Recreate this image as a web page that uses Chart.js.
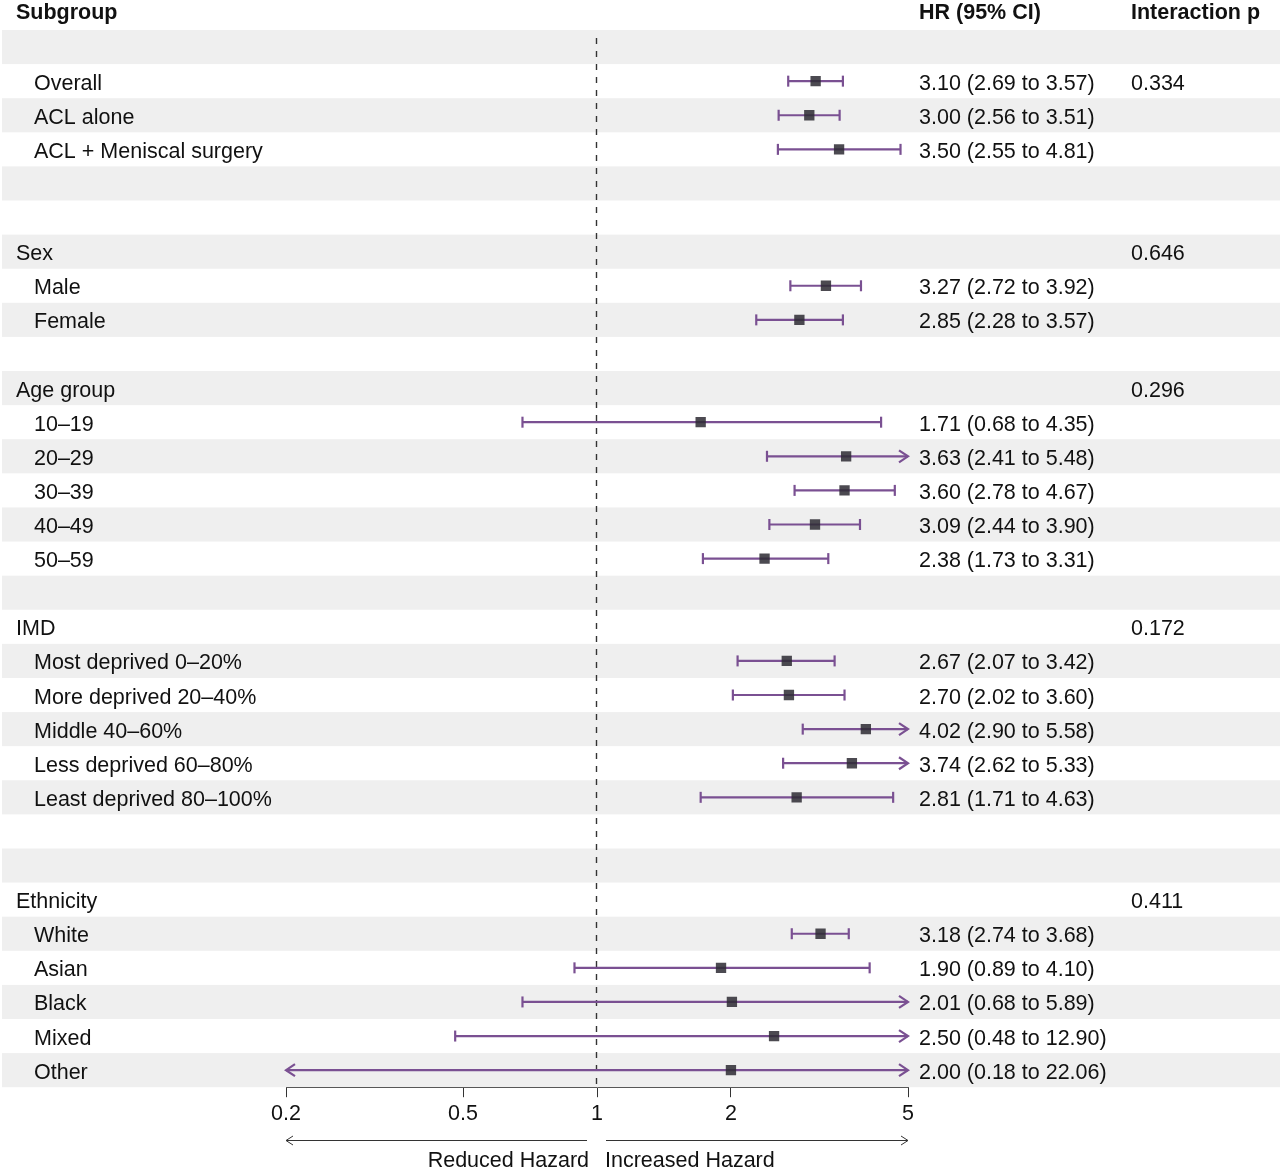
<!DOCTYPE html>
<html>
<head>
<meta charset="utf-8">
<script src="https://cdn.jsdelivr.net/npm/chart.js@4/dist/chart.umd.min.js"></script>
<style>
  html, body { margin: 0; padding: 0; background: #ffffff; }
  #wrap { position: relative; width: 1280px; height: 1169px; }
</style>
</head>
<body>
<div id="wrap"><canvas id="c"></canvas></div>
<script>
// ---------------- DATA ----------------
const subgroupLabels = [
  "", "Overall", "ACL alone", "ACL + Meniscal surgery", "", "",
  "Sex", "Male", "Female", "",
  "Age group", "10–19", "20–29", "30–39", "40–49", "50–59", "",
  "IMD", "Most deprived 0–20%", "More deprived 20–40%", "Middle 40–60%", "Less deprived 60–80%", "Least deprived 80–100%", "", "",
  "Ethnicity", "White", "Asian", "Black", "Mixed", "Other"
];
const hazardRatio = [
  null, 3.10, 3.00, 3.50, null, null,
  null, 3.27, 2.85, null,
  null, 1.71, 3.63, 3.60, 3.09, 2.38, null,
  null, 2.67, 2.70, 4.02, 3.74, 2.81, null, null,
  null, 3.18, 1.90, 2.01, 2.50, 2.00
];
const ciLower = [
  null, 2.69, 2.56, 2.55, null, null,
  null, 2.72, 2.28, null,
  null, 0.68, 2.41, 2.78, 2.44, 1.73, null,
  null, 2.07, 2.02, 2.90, 2.62, 1.71, null, null,
  null, 2.74, 0.89, 0.68, 0.48, 0.18
];
const ciUpper = [
  null, 3.57, 3.51, 4.81, null, null,
  null, 3.92, 3.57, null,
  null, 4.35, 5.48, 4.67, 3.90, 3.31, null,
  null, 3.42, 3.60, 5.58, 5.33, 4.63, null, null,
  null, 3.68, 4.10, 5.89, 12.90, 22.06
];
const interactionP = [
  null, "0.334", null, null, null, null,
  "0.646", null, null, null,
  "0.296", null, null, null, null, null, null,
  "0.172", null, null, null, null, null, null, null,
  "0.411", null, null, null, null, null
];
const xTickValues = [0.2, 0.5, 1, 2, 5];
const headerLabels = ["Subgroup", "HR (95% CI)", "Interaction p"];
const directionLabels = ["Reduced Hazard", "Increased Hazard"];
const xMin = 0.2, xMax = 5, nullValue = 1;

// ---------------- STYLE ----------------
const FONT = "'Liberation Sans', Arial, Helvetica, sans-serif";
const FS = 21.5;
const PURPLE = "#7a5092";
const STRIPE = "#efefef";
const TEXT = "#111111";

const points = [];
hazardRatio.forEach((v, i) => { if (v !== null) points.push({ x: v, y: i }); });

function chevron(ctx, x, y, dir, len, half) {
  ctx.beginPath();
  ctx.moveTo(x - dir * len, y - half);
  ctx.lineTo(x, y);
  ctx.lineTo(x - dir * len, y + half);
  ctx.stroke();
}

const forestPlugin = {
  id: "forest",
  beforeDatasetsDraw(chart) {
    const ctx = chart.ctx, xs = chart.scales.x, ys = chart.scales.y;
    const W = chart.width;
    ctx.save();
    // stripes
    ctx.fillStyle = STRIPE;
    for (let i = 0; i < subgroupLabels.length; i += 2) {
      const t = ys.getPixelForValue(i - 0.5), b = ys.getPixelForValue(i + 0.5);
      ctx.fillRect(2, Math.min(t, b), W - 2, Math.abs(b - t));
    }
    // reference dashed line
    const x1 = Math.round(xs.getPixelForValue(nullValue)) - 0.5;
    ctx.strokeStyle = "#333";
    ctx.lineWidth = 1.4;
    ctx.setLineDash([6, 7]);
    ctx.beginPath();
    ctx.moveTo(x1, ys.getPixelForValue(-0.5) + 8);
    ctx.lineTo(x1, chart.chartArea.bottom);
    ctx.stroke();
    ctx.setLineDash([]);
    // CIs
    ctx.strokeStyle = PURPLE;
    ctx.lineWidth = 2.2;
    hazardRatio.forEach((v, i) => {
      if (v === null) return;
      const y = ys.getPixelForValue(i);
      const lo = Math.max(ciLower[i], xMin), hi = Math.min(ciUpper[i], xMax);
      const xl = xs.getPixelForValue(lo), xh = xs.getPixelForValue(hi);
      ctx.beginPath();
      ctx.moveTo(xl, y); ctx.lineTo(xh, y);
      ctx.stroke();
      if (ciLower[i] < xMin) chevron(ctx, xl, y, -1, 9, 6);
      else { ctx.beginPath(); ctx.moveTo(xl, y - 5.5); ctx.lineTo(xl, y + 5.5); ctx.stroke(); }
      if (ciUpper[i] > xMax) chevron(ctx, xh, y, 1, 9, 6);
      else { ctx.beginPath(); ctx.moveTo(xh, y - 5.5); ctx.lineTo(xh, y + 5.5); ctx.stroke(); }
    });
    ctx.restore();
  },
  afterDraw(chart) {
    const ctx = chart.ctx, xs = chart.scales.x, ys = chart.scales.y;
    ctx.save();
    ctx.fillStyle = TEXT;
    ctx.textBaseline = "alphabetic";
    ctx.textAlign = "left";
    // headers
    ctx.font = "bold " + FS + "px " + FONT;
    ctx.fillText(headerLabels[0], 16, 19);
    ctx.fillText(headerLabels[1], 919, 19);
    ctx.fillText(headerLabels[2], 1131, 19);
    // rows
    ctx.font = FS + "px " + FONT;
    subgroupLabels.forEach((lab, i) => {
      const y = ys.getPixelForValue(i) + 8.5;
      if (lab) ctx.fillText(lab, hazardRatio[i] === null ? 16 : 34, y);
      if (hazardRatio[i] !== null) {
        const t = hazardRatio[i].toFixed(2) + " (" + ciLower[i].toFixed(2) + " to " + ciUpper[i].toFixed(2) + ")";
        ctx.fillText(t, 919, y);
      }
      if (interactionP[i]) ctx.fillText(interactionP[i], 1131, y);
    });
    // direction arrows
    const xl = xs.getPixelForValue(xMin), xr = xs.getPixelForValue(xMax), xc = xs.getPixelForValue(nullValue);
    const ay = 1140.5;
    ctx.strokeStyle = "#333";
    ctx.lineWidth = 1;
    ctx.beginPath(); ctx.moveTo(xl, ay); ctx.lineTo(xc - 10, ay); ctx.stroke();
    chevron(ctx, xl, ay, -1, 7, 4.5);
    ctx.beginPath(); ctx.moveTo(xc + 9, ay); ctx.lineTo(xr, ay); ctx.stroke();
    chevron(ctx, xr, ay, 1, 7, 4.5);
    ctx.textAlign = "right";
    ctx.fillText(directionLabels[0], xc - 8, 1167);
    ctx.textAlign = "left";
    ctx.fillText(directionLabels[1], xc + 8, 1167);
    ctx.restore();
  }
};

Chart.defaults.font.family = FONT;
Chart.defaults.font.size = FS;
Chart.defaults.color = TEXT;

new Chart(document.getElementById("c"), {
  type: "scatter",
  data: {
    datasets: [{
      data: points,
      pointStyle: "rect",
      pointRadius: 7.3,
      pointHoverRadius: 7.3,
      backgroundColor: "rgba(45,42,50,0.85)",
      borderWidth: 0
    }]
  },
  options: {
    responsive: true,
    maintainAspectRatio: false,
    animation: false,
    devicePixelRatio: 1,
    events: [],
    layout: { padding: { left: 286, right: 372, top: 30, bottom: 38 } },
    plugins: { legend: { display: false }, tooltip: { enabled: false } },
    scales: {
      x: {
        type: "logarithmic",
        min: xMin,
        max: xMax,
        afterBuildTicks: (s) => { s.ticks = xTickValues.map(v => ({ value: v })); },
        ticks: {
          autoSkip: false,
          maxRotation: 0,
          padding: 4,
          color: TEXT,
          font: { size: FS },
          callback: (v) => String(v)
        },
        grid: { drawOnChartArea: false, drawTicks: true, tickLength: 10, color: "#333", lineWidth: 1 },
        border: { display: true, color: "#333", width: 1 }
      },
      y: {
        type: "linear",
        min: -0.5,
        max: subgroupLabels.length - 0.5,
        reverse: true,
        display: false
      }
    }
  },
  plugins: [forestPlugin]
});
</script>
</body>
</html>
